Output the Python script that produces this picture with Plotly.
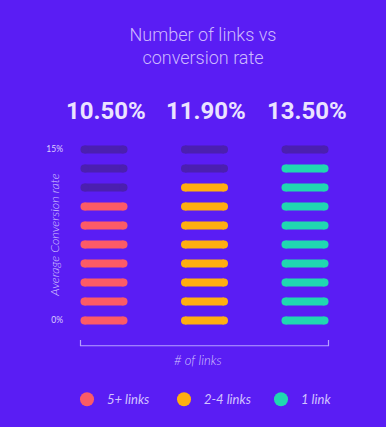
import plotly.graph_objects as go

# ---- data ----
columns = ["5+ links", "2-4 links", "1 link"]
rates = [10.5, 11.9, 13.5]          # average conversion rate, %
step = 1.5                          # % represented by one pill
n_rows = 10                         # pills per column (0% .. 15%)
tick_rows = [0, 9]
tick_labels = ["0%", "15%"]
colors = ["#fc5b66", "#ffae10", "#20d7b1"]

# ---- style ----
W, H = 386, 427
BG = "#5a1df4"
DIM = "#4b1fb0"
LAV = "#d3c3ff"
PX_X = 100.5      # px per column unit
PX_Y = 19.0       # px per row unit
PILL_LEN = 47
PILL_TH = 8
A = (PILL_LEN / 2 - PILL_TH / 2) / PX_X   # half distance between the cap centres


def pill_xy(col_index, row_list):
    xs, ys = [], []
    for r in row_list:
        xs += [col_index - A, col_index + A, None]
        ys += [r, r, None]
    return xs, ys


fig = go.Figure()
rows = list(range(n_rows))
for i, (name, rate, col) in enumerate(zip(columns, rates, colors)):
    filled = round(rate / step)
    for subset, c in (([r for r in rows if r < filled], col), ([r for r in rows if r >= filled], DIM)):
        if not subset:
            continue
        xs, ys = pill_xy(i, subset)
        fig.add_trace(go.Scatter(x=xs, y=ys, mode="lines+markers",
                                 line=dict(color=c, width=PILL_TH),
                                 marker=dict(color=c, size=PILL_TH, line_width=0),
                                 showlegend=False, hoverinfo="skip"))
    # legend entry
    fig.add_trace(go.Scatter(x=[None], y=[None], mode="markers", name=name,
                             marker=dict(color=col, size=14, symbol="circle")))
    # big rate label
    fig.add_annotation(x=i, y=(H - 111.5) / H, xref="x", yref="paper",
                       text=f"{rate:.2f}%", showarrow=False, xanchor="center", yanchor="middle",
                       xshift=1.5,
                       font=dict(family="Roboto", size=24, weight=700, color="#ebe3ff"))

# bracket under the columns (from first pill's left edge to last pill's right edge)
half = PILL_LEN / 2 / PX_X
x0, x1 = -half, len(columns) - 1 + half
fig.add_shape(type="path", xref="x", yref="y",
              path=f"M {x0} -1.03 L {x0} -1.33 L {x1} -1.33 L {x1} -1.03",
              line=dict(color="#b7a0ff", width=1.2))

fig.add_annotation(x=55 / W, y=(H - 235) / H, xref="paper", yref="paper",
                   text="Average Conversion rate", textangle=-90, showarrow=False,
                   xanchor="center", yanchor="middle",
                   font=dict(family="Lato", size=12.5, style="italic", weight=300, color=LAV))
fig.add_annotation(x=198 / W, y=(H - 360) / H, xref="paper", yref="paper",
                   text="# of links", showarrow=False, xanchor="center", yanchor="middle",
                   font=dict(family="Lato", size=13, style="italic", weight=300, color=LAV))

fig.update_layout(
    width=W, height=H,
    margin=dict(l=0, r=0, t=0, b=0),
    paper_bgcolor=BG, plot_bgcolor=BG,
    title=dict(text="Number of links vs<br>conversion rate", x=203 / W, xanchor="center",
               y=1 - 41 / H, yanchor="middle", yref="container",
               font=dict(family="Roboto", size=18, weight=300, color="#cdb9ff")),
    xaxis=dict(domain=[68 / W, 346 / W], range=[-36 / PX_X, 242 / PX_X],
               showgrid=False, zeroline=False, showticklabels=False, fixedrange=True),
    yaxis=dict(domain=[(H - 357) / H, (H - 130) / H], range=[-36.5 / PX_Y, 9 + 19.5 / PX_Y],
               showgrid=False, zeroline=False, tickmode="array", tickvals=tick_rows,
               ticktext=tick_labels, ticks="", ticklabelstandoff=4,
               tickfont=dict(family="Lato", size=8.5, color="#ddd0ff"), fixedrange=True),
    legend=dict(orientation="h", x=(86 - 19) / W, xanchor="left", y=(H - 399.3) / H,
                yanchor="middle", bgcolor="rgba(0,0,0,0)",
                font=dict(family="Lato", size=13, style="italic", color=LAV),
                itemwidth=30, entrywidth=52, entrywidthmode="pixels"),
    showlegend=True,
)

fig.write_html("out.html", config={"displayModeBar": False},
               post_script="document.body.style.margin='0';document.body.style.overflow='hidden';")
